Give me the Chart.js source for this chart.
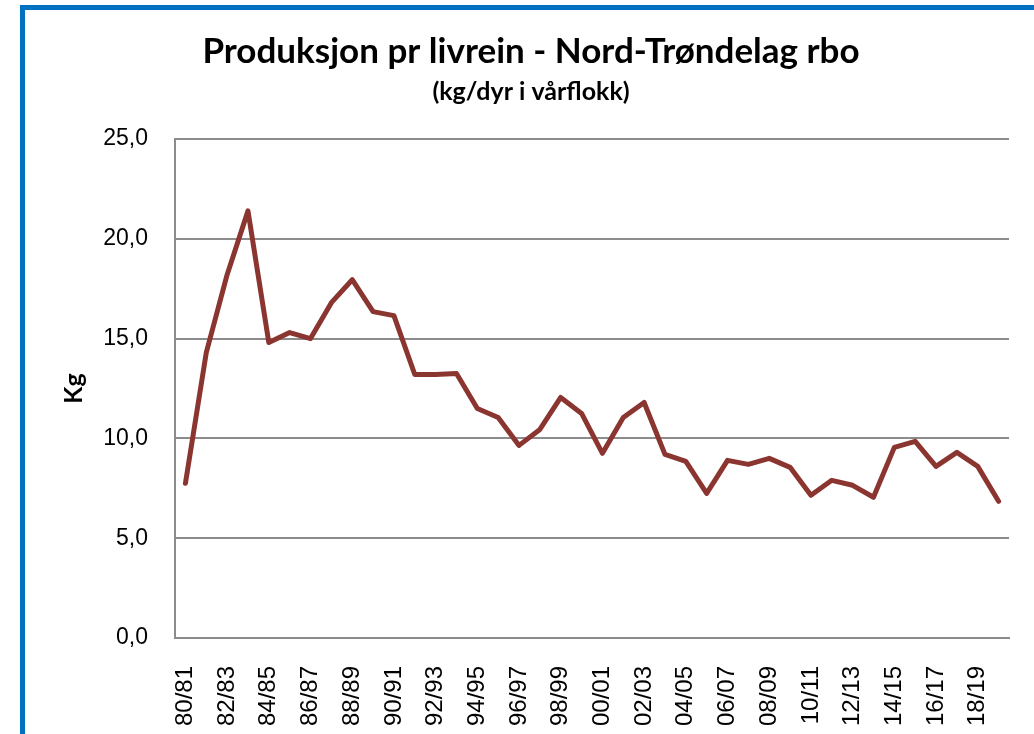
<!DOCTYPE html>
<html>
<head>
<meta charset="utf-8">
<script src="https://cdn.jsdelivr.net/npm/chart.js@4/dist/chart.umd.min.js"></script>
<style>
html, body { margin: 0; padding: 0; background: #fff; overflow: hidden; }
#wrap { position: relative; width: 1034px; height: 734px; }
#myChart { position: absolute; left: 0; top: 0; }
#ramme { position: absolute; left: 20px; top: 5px; width: 1100px; height: 800px; border: 5px solid #0070C0; box-sizing: border-box; pointer-events: none; }
</style>
</head>
<body>
<div id="wrap">
  <canvas id="myChart" width="1034" height="734"></canvas>
  <div id="ramme"></div>
</div>
<script>
// sesonger (reinår)
const sesonger = [
  '80/81', '81/82', '82/83', '83/84', '84/85', '85/86', '86/87', '87/88', '88/89', '89/90',
  '90/91', '91/92', '92/93', '93/94', '94/95', '95/96', '96/97', '97/98', '98/99', '99/00',
  '00/01', '01/02', '02/03', '03/04', '04/05', '05/06', '06/07', '07/08', '08/09', '09/10',
  '10/11', '11/12', '12/13', '13/14', '14/15', '15/16', '16/17', '17/18', '18/19', '19/20'
];

// kg pr dyr i vårflokk
const produksjon = [
  7.75, 14.3, 18.2, 21.4, 14.8, 15.3, 15.0, 16.8, 17.95, 16.35,
  16.15, 13.2, 13.2, 13.25, 11.5, 11.05, 9.65, 10.45, 12.05, 11.25,
  9.25, 11.05, 11.8, 9.2, 8.85, 7.25, 8.9, 8.7, 9.0, 8.55,
  7.15, 7.9, 7.65, 7.05, 9.55, 9.85, 8.6, 9.3, 8.6, 6.85
];

const yMin = 0;
const yMax = 25;
const yStep = 5;

const tittel = 'Produksjon pr livrein - Nord-Trøndelag rbo';
const undertittel = '(kg/dyr i vårflokk)';
const yTittel = 'Kg';

const gridColor = '#8c8c8c';

const ctx = document.getElementById('myChart');
new Chart(ctx, {
  type: 'line',
  data: {
    labels: sesonger,
    datasets: [{
      label: yTittel,
      data: produksjon,
      borderColor: '#8B3531',
      borderWidth: 5,
      pointRadius: 0,
      tension: 0,
      fill: false,
      borderJoinStyle: 'round',
      borderCapStyle: 'round'
    }]
  },
  options: {
    responsive: false,
    animation: false,
    devicePixelRatio: 1,
    layout: { padding: { left: 53, right: 25, top: 0, bottom: 0 } },
    plugins: {
      legend: { display: false },
      tooltip: { enabled: false },
      title: {
        display: true,
        text: tittel,
        color: '#000',
        font: { family: 'Lato', size: 35, weight: 'bold' },
        padding: { top: 31, bottom: 2 }
      },
      subtitle: {
        display: true,
        text: undertittel,
        color: '#000',
        font: { family: 'Lato', size: 25, weight: 'bold' },
        padding: { top: 2, bottom: 32 }
      }
    },
    scales: {
      x: {
        offset: true,
        grid: { display: false, offset: true },
        border: { display: true, color: gridColor, width: 2 },
        ticks: {
          autoSkip: false,
          maxRotation: 90,
          minRotation: 90,
          padding: 20,
          color: '#000',
          font: { family: 'Liberation Sans', size: 24 },
          callback: function (v, i) { return i % 2 === 0 ? sesonger[i] : ''; }
        },
        afterFit: function (s) {
          s.height = 96;
          s.paddingLeft = 0;
          s.paddingRight = 0;
        }
      },
      y: {
        min: yMin,
        max: yMax,
        ticks: {
          stepSize: yStep,
          padding: 27,
          color: '#000',
          font: { family: 'Liberation Sans', size: 23 },
          callback: function (v) { return v.toFixed(1).replace('.', ','); }
        },
        grid: { color: gridColor, lineWidth: 2, drawTicks: false },
        border: { display: true, color: gridColor, width: 2 },
        title: {
          display: true,
          text: yTittel,
          color: '#000',
          font: { family: 'Lato', size: 25, weight: 'bold' },
          padding: { top: 6, bottom: 0 }
        },
        afterFit: function (s) { s.width = 122; }
      }
    }
  }
});
</script>
</body>
</html>
